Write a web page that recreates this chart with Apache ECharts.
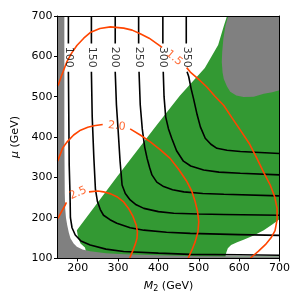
<!DOCTYPE html>
<html><head><meta charset="utf-8">
<script src="https://cdn.jsdelivr.net/npm/echarts@6/dist/echarts.min.js"></script>
<style>html,body{margin:0;padding:0;background:#fff}#c{width:292px;height:298px}</style>
</head><body><div id="c"></div>
<script>
// ---- axes ----
const xTicks = [200, 300, 400, 500, 600, 700];
const yTicks = [100, 200, 300, 400, 500, 600, 700];

// ---- filled regions (M2, mu) ----
const greenRegion = [[198,169],[297,301],[396,430],[453,502],[515,571],[548,628],[562,675],[570,700],
  [700,700],[700,100],[225,100],[218,126],[207,136],[201,150]];
const grayTopRight = [[573,700],[566,675],[561,644],[558,610],[557,586],[559,560],[562,544],[570,525],[578,512],[593,503],[611,499],[636,500],[661,507],[682,511],[700,516],[700,700]];
const whitePocket = [[566,104],[568,113],[572,124],[580,132],[595,139],[611,145],[636,156],[661,169],[682,183],[700,196],[700,104]];
const grayLeftBottom = [[150,100],[150,700],[167,700],[167,400],[168,260],[169,224],[171,200],[174,182],[178,163],[182,149],[190,136],[198,128],[212,121],[231,117],[270,112],[314,109],[400,107],[479,105],[600,104],[700,104],[700,100]];

// ---- mass contours (black), null = label gap ----
const massLabels = ['100','150','200','250','300','350'];
const mass100 = [[177,700],[177,632],null,[177,562],[178,450],[179,330],[181,260],[182,200],[186,175],[194,157],[208,142],[231,132],[270,122],[314,116],[400,112],[479,109],[600,108],[700,107]];
const mass150 = [[234,700],[234,632],null,[234,562],[236,450],[240,350],[244,270],[249,240],[256,220],[264,206],[280,195],[297,186],[330,175],[364,169],[420,164],[479,161],[600,158],[700,156]];
const mass200 = [[293,700],[293,632],null,[293,562],[296,480],[300,420],[305,340],[310,281],[318,260],[330,244],[345,232],[364,223],[400,215],[438,211],[500,209],[562,208],[700,206]];
const mass250 = [[351,700],[351,632],null,[352,562],[355,480],[360,420],[366,375],[372,347],[378,325],[384,306],[396,288],[413,277],[435,269],[463,264],[510,260],[562,258],[700,254]];
const mass300 = [[411,700],[411,632],null,[412,562],[414,500],[418,450],[425,420],[433,397],[445,366],[462,340],[480,328],[512,318],[550,313],[603,310],[700,306]];
const mass350 = [[469,700],[469,632],null,[471,562],[475,550],[481,520],[487,495],[496,455],[504,425],[516,397],[530,382],[545,372],[570,367],[603,364],[700,359]];
const massLabelPos = [[177,598],[234,598],[293,598],[352,598],[411,598],[470,598]];

// ---- ratio contours (orange) ----
const ratioLabels = ['1.5','2.0','2.5'];
const ratio15 = [[150,527],[153,532],[160,552],[173,586],[185,608],[198,627],[215,645],[231,659],[255,669],[281,673],[314,670],[335,665],[355,656],[377,645],[397,631],[409,622],null,
  [470,572],[479,561],[500,543],[520,524],[540,501],[562,478],[582,448],[603,417],[625,384],[644,347],[662,310],[677,281],[688,252],[694,223],[694,195],[689,168],[679,150],[665,133],[648,117],[628,100]];
const ratio20 = [[150,340],[153,347],[163,373],[174,388],[190,405],[207,417],[225,424],[240,428],[262,431],null,
  [330,420],[335,417],[355,405],[380,388],[405,368],[429,347],[450,320],[471,289],[483,265],[491,240],[497,215],[500,190],[498,165],[491,140],[483,120],[474,100]];
const ratio25 = [[150,197],[153,202],[160,215],[169,231],[172,238],null,
  [228,264],[250,266],[264,264],[282,259],[297,252],[313,240],[326,223],[337,203],[345,182],[348,165],[347,149],[343,135],[339,124],[334,112],[329,100]];
const ratioLabelPos = [[439,596],[297,427],[201,261]];
const ratioLabelRot = [-40, -6, 25];

const GREEN = '#339933', GRAY = '#808080', ORANGE = '#ff4500';
const FONT = 'DejaVu Sans';

function polygon(pts, color, z) {
  return {
    type: 'custom', coordinateSystem: 'cartesian2d', silent: true, z: z, clip: true,
    data: [pts[0]],
    renderItem: function (params, api) {
      return { type: 'polygon', shape: { points: pts.map(function (p) { return api.coord(p); }) },
        style: { fill: color, stroke: null } };
    }
  };
}
function lines(pts, color, width, z) {
  const out = []; let cur = [];
  pts.forEach(function (p) { if (p === null) { out.push(cur); cur = []; } else cur.push(p); });
  out.push(cur);
  return out.map(function (seg) {
    return { type: 'line', data: seg, showSymbol: false, symbol: 'none', silent: true, z: z,
      lineStyle: { color: color, width: width }, animation: false };
  });
}
function labels(pos, texts, color, rot, z) {
  return pos.map(function (p, i) {
    return { type: 'scatter', data: [[p[0], p[1]]], symbolSize: 0, silent: true, z: z,
      label: { show: true, position: 'inside', formatter: texts[i], color: color,
        fontSize: 11, fontFamily: FONT, rotate: Array.isArray(rot) ? rot[i] : rot } };
  });
}

let series = [];
series.push(polygon(greenRegion, GREEN, 1));
series.push(polygon(whitePocket, '#ffffff', 2));
series.push(polygon(grayTopRight, GRAY, 3));
series.push(polygon(grayLeftBottom, GRAY, 3));
[mass100, mass150, mass200, mass250, mass300, mass350].forEach(function (c) {
  series = series.concat(lines(c, '#000000', 1.6, 4));
});
[ratio15, ratio20, ratio25].forEach(function (c) {
  series = series.concat(lines(c, ORANGE, 1.6, 5));
});
series = series.concat(labels(massLabelPos, massLabels, '#000000', -90, 6));
series = series.concat(labels(ratioLabelPos, ratioLabels, ORANGE, ratioLabelRot, 6));

const chart = echarts.init(document.getElementById('c'), null, { renderer: 'canvas' });
chart.setOption({
  animation: false,
  backgroundColor: '#ffffff',
  grid: { left: 57.5, right: 12.5, top: 16, bottom: 40, containLabel: false, outerBoundsMode: 'none' },
  xAxis: [{
    type: 'value', min: 150, max: 700, position: 'bottom', z: 10,
    axisLine: { show: true, onZero: false, lineStyle: { color: '#000', width: 1 } },
    axisTick: { show: true, customValues: xTicks, length: 3.5, lineStyle: { color: '#000' } },
    axisLabel: { customValues: xTicks, color: '#000', fontSize: 11, fontFamily: FONT, margin: 5 },
    splitLine: { show: false },
    name: '{i|M}{s|2} (GeV)', nameLocation: 'middle', nameGap: 21,
    nameTextStyle: { color: '#000', fontSize: 11, fontFamily: FONT,
      rich: { i: { fontStyle: 'italic', fontSize: 11, fontFamily: FONT, color: '#000' },
              s: { fontSize: 8, fontFamily: FONT, color: '#000', padding: [6, 0, 0, 0] } } }
  }, {
    type: 'value', min: 150, max: 700, position: 'top', z: 10,
    axisLine: { show: true, onZero: false, lineStyle: { color: '#000', width: 1 } },
    axisTick: { show: false }, axisLabel: { show: false }, splitLine: { show: false }
  }],
  yAxis: [{
    type: 'value', min: 100, max: 700, interval: 100, position: 'left', z: 10,
    axisLine: { show: true, onZero: false, lineStyle: { color: '#000', width: 1 } },
    axisTick: { show: true, length: 3.5, lineStyle: { color: '#000' } },
    axisLabel: { color: '#000', fontSize: 11, fontFamily: FONT, margin: 5 },
    splitLine: { show: false },
    name: '{i|μ} (GeV)', nameLocation: 'middle', nameGap: 34, nameRotate: 90,
    nameTextStyle: { color: '#000', fontSize: 11, fontFamily: FONT,
      rich: { i: { fontStyle: 'italic', fontSize: 11, fontFamily: FONT, color: '#000' } } }
  }, {
    type: 'value', min: 100, max: 700, interval: 100, position: 'right', z: 10,
    axisLine: { show: true, onZero: false, lineStyle: { color: '#000', width: 1 } },
    axisTick: { show: false }, axisLabel: { show: false }, splitLine: { show: false }
  }],
  series: series
});
</script></body></html>
